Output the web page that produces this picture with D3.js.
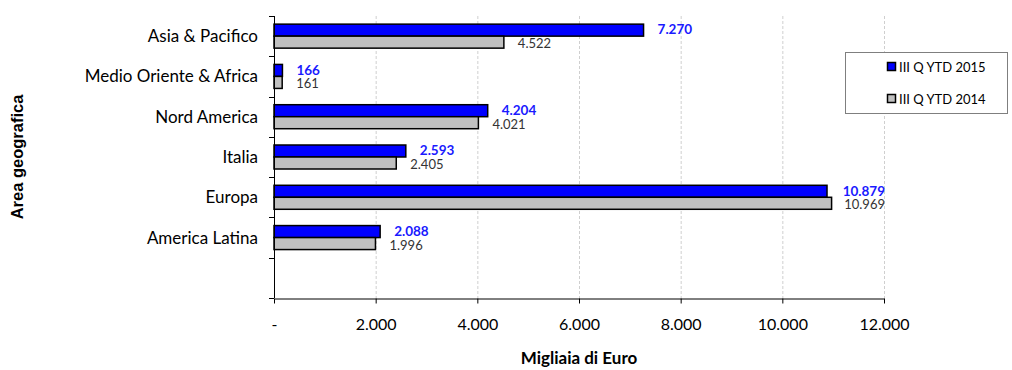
<!DOCTYPE html>
<html>
<head>
<meta charset="utf-8">
<script src="https://cdn.jsdelivr.net/npm/d3@7"></script>
<style>
  body { margin: 0; background: #fff; }
  svg { display: block; }
  text { font-family: Lato, "Open Sans", sans-serif; }
</style>
</head>
<body>
<div id="container"></div>
<script>
const areas = ["Asia & Pacifico", "Medio Oriente & Africa", "Nord America", "Italia", "Europa", "America Latina", ""]
const ytd2015 = [7270, 166, 4204, 2593, 10879, 2088]
const ytd2014 = [4522, 161, 4021, 2405, 10969, 1996]
const seriesNames = ["III Q YTD 2015", "III Q YTD 2014"]
const xTicks = [0, 2000, 4000, 6000, 8000, 10000, 12000]

const width = 1012, height = 370
const plotL = 274, plotR = 884, plotT = 16, plotB = 298

const itFormat = d3.formatLocale({decimal: ",", thousands: ".", grouping: [3], currency: ["€", ""]}).format(",d")
const fmt = v => v === 0 ? "-" : itFormat(v)

const svg = d3.select("#container").append("svg")
    .attr("width", width)
    .attr("height", height)

const x = d3.scaleLinear().domain([0, 12000]).range([plotL, plotR])
const y = d3.scaleBand().domain(d3.range(areas.length)).range([plotT, plotB])

// gridlines
svg.append("g")
    .selectAll("line")
    .data(xTicks.slice(1))
    .enter()
    .append("line")
    .attr("x1", d => x(d) + 0.5)
    .attr("x2", d => x(d) + 0.5)
    .attr("y1", plotT)
    .attr("y2", plotB)
    .style("stroke", "#cfcfcf")
    .style("stroke-dasharray", "3,2")

const barH = 12
const rows = ytd2015.map((v, i) => ({i: i, a: v, b: ytd2014[i]}))

const g = svg.append("g")

g.selectAll("rect.s2015")
    .data(rows)
    .enter()
    .append("rect")
    .attr("class", "s2015")
    .attr("x", x(0))
    .attr("y", d => y(d.i) + y.bandwidth() / 2 - barH)
    .attr("width", d => x(d.a) - x(0))
    .attr("height", barH)
    .style("fill", "#0000ff")
    .style("stroke", "#000")
    .style("stroke-width", 1.5)

g.selectAll("rect.s2014")
    .data(rows)
    .enter()
    .append("rect")
    .attr("class", "s2014")
    .attr("x", x(0))
    .attr("y", d => y(d.i) + y.bandwidth() / 2)
    .attr("width", d => x(d.b) - x(0))
    .attr("height", barH)
    .style("fill", "#c0c0c0")
    .style("stroke", "#000")
    .style("stroke-width", 1.5)

// value labels, pushed back inside when they would overflow
function labelX(v){
    let px = x(v) + 14
    return px + 50 > plotR + 2 ? null : px
}

g.selectAll("text.l2015")
    .data(rows)
    .enter()
    .append("text")
    .attr("class", "l2015")
    .attr("x", d => labelX(d.a) === null ? plotR + 1 : labelX(d.a))
    .attr("text-anchor", d => labelX(d.a) === null ? "end" : "start")
    .attr("y", d => y(d.i) + y.bandwidth() / 2 - barH / 2 - 0.5)
    .attr("dy", "0.35em")
    .style("font-size", "13.5px")
    .style("font-weight", "bold")
    .style("fill", "#1a1aff")
    .text(d => fmt(d.a))

g.selectAll("text.l2014")
    .data(rows)
    .enter()
    .append("text")
    .attr("class", "l2014")
    .attr("x", d => labelX(d.b) === null ? plotR + 1 : labelX(d.b))
    .attr("text-anchor", d => labelX(d.b) === null ? "end" : "start")
    .attr("y", d => y(d.i) + y.bandwidth() / 2 + barH / 2 + 1.5)
    .attr("dy", "0.35em")
    .style("font-size", "13px")
    .style("fill", "#333")
    .text(d => fmt(d.b))

// left axis with ticks on band boundaries
const yAxis = svg.append("g")
yAxis.append("line")
    .attr("x1", plotL + 0.5).attr("x2", plotL + 0.5)
    .attr("y1", plotT).attr("y2", plotB)
    .style("stroke", "#000")
yAxis.selectAll("line.tk")
    .data(d3.range(areas.length + 1))
    .enter()
    .append("line")
    .attr("class", "tk")
    .attr("x1", plotL - 5).attr("x2", plotL)
    .attr("y1", d => Math.round(plotT + d * y.step()) + 0.5)
    .attr("y2", d => Math.round(plotT + d * y.step()) + 0.5)
    .style("stroke", "#000")
yAxis.selectAll("text")
    .data(areas)
    .enter()
    .append("text")
    .attr("x", plotL - 16)
    .attr("y", (d, i) => y(i) + y.bandwidth() / 2)
    .attr("dy", "0.35em")
    .attr("text-anchor", "end")
    .style("font-size", "17px")
    .style("fill", "#000")
    .text(d => d)

// bottom axis
const xAxis = svg.append("g")
    .attr("transform", `translate(0,${plotB + 0.5})`)
    .call(d3.axisBottom(x).tickValues(xTicks).tickSize(5).tickSizeOuter(0).tickFormat(fmt).tickPadding(15))
xAxis.select(".domain").style("stroke", "#000")
xAxis.selectAll(".tick line").style("stroke", "#000")
xAxis.selectAll("text")
    .style("font-family", "Lato, 'Open Sans', sans-serif")
    .style("font-size", "16px")
    .style("fill", "#000")

// axis titles
svg.append("text")
    .attr("x", (plotL + plotR) / 2)
    .attr("y", 364)
    .attr("text-anchor", "middle")
    .style("font-size", "17px")
    .style("font-weight", "bold")
    .text("Migliaia di Euro")

svg.append("text")
    .attr("transform", "translate(23,157) rotate(-90)")
    .attr("text-anchor", "middle")
    .style("font-family", "'Liberation Sans', Arial, sans-serif")
    .style("font-size", "16.5px")
    .style("font-weight", "bold")
    .text("Area geografica")

// legend
const legend = svg.append("g")
legend.append("rect")
    .attr("x", 845.5).attr("y", 52.5)
    .attr("width", 162).attr("height", 61)
    .style("fill", "#fff")
    .style("stroke", "#7f7f7f")

const legendColors = ["#0000ff", "#c0c0c0"]
const item = legend.selectAll("g")
    .data(seriesNames)
    .enter()
    .append("g")
    .attr("transform", (d, i) => `translate(887,${66 + i * 32})`)
item.append("rect")
    .attr("x", 0.5).attr("y", -3.5)
    .attr("width", 8).attr("height", 8)
    .style("fill", (d, i) => legendColors[i])
    .style("stroke", "#000")
    .style("stroke-width", 1.5)
item.append("text")
    .attr("x", 12)
    .attr("y", 1)
    .attr("dy", "0.35em")
    .style("font-size", "13px")
    .style("fill", "#000")
    .text(d => d)
</script>
</body>
</html>
